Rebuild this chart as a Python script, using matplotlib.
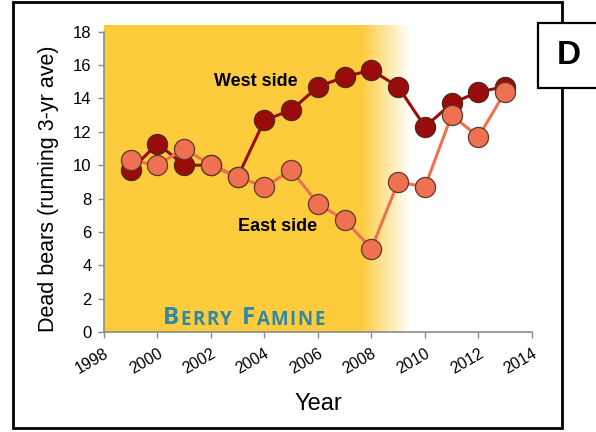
"""
Dead bears, running 3-yr average, west vs east side with berry famine band.
"""
import numpy as np
import matplotlib
matplotlib.use('Agg')
import matplotlib.pyplot as plt
from matplotlib.patches import Rectangle

# ── Data ─────────────────────────────────────────────
years = [1999, 2000, 2001, 2002, 2003, 2004, 2005, 2006, 2007, 2008,
         2009, 2010, 2011, 2012, 2013]
west = [9.7, 11.3, 10.0, 10.0, 9.3, 12.7, 13.3, 14.7, 15.3, 15.7,
        14.7, 12.3, 13.7, 14.4, 14.7]
east = [10.3, 10.0, 11.0, 10.0, 9.3, 8.7, 9.7, 7.7, 6.7, 5.0,
        9.0, 8.7, 13.0, 11.7, 14.4]
famine_start, famine_solid_end, famine_end = 1998, 2007.6, 2009.45

WEST_C = '#9a0b0b'
EAST_C = '#f07052'
YELLOW = '#fdcc3d'
TEAL = '#2f88a6'

plt.rcParams.update({'font.family': 'Liberation Sans', 'font.size': 11})
fig = plt.figure(figsize=(5.96, 4.32), dpi=100)
ax = fig.add_axes([0.1745, 0.2315, 0.718, 0.695])

# ── famine band with fade-out ────────────────────────
n = 400
xs = np.linspace(famine_start, famine_end, n)
alpha = np.clip((famine_end - xs) / (famine_end - famine_solid_end), 0, 1)
rgb = matplotlib.colors.to_rgb(YELLOW)
img = np.zeros((1, n, 4))
img[0, :, :3] = rgb
img[0, :, 3] = alpha
ax.imshow(img, extent=[famine_start, famine_end, 0, 18.36], aspect='auto',
          interpolation='bilinear', zorder=0, clip_on=False)

# ── lines ────────────────────────────────────────────
ax.plot(years, east, '-o', color=EAST_C, lw=2.2, ms=14.5, mfc=EAST_C,
        mec='#5a3a2a', mew=0.9, zorder=3)
ax.plot(years, west, '-o', color=WEST_C, lw=2.2, ms=14.5, mfc=WEST_C,
        mec='#4a2a1a', mew=0.9, zorder=2)

ax.text(2003.68, 15.0, 'West side', fontsize=13, fontweight='bold', ha='center', va='center')
ax.text(2004.5, 6.3, 'East side', fontsize=13, fontweight='bold', ha='center', va='center')

# small caps "BERRY FAMINE", letter by letter (gap before F = word space)
letters = [('B', 17.5, 0), ('E', 13.5, 1.0), ('R', 13.5, 1.0), ('R', 13.5, 1.0),
           ('Y', 13.5, 1.0), ('F', 17.5, 7.5), ('A', 13.5, 1.0), ('M', 13.5, 1.0),
           ('I', 13.5, 1.0), ('N', 13.5, 1.0), ('E', 13.5, 1.0)]
prev = ax.text(2000.2, 0.5, letters[0][0], fontsize=letters[0][1], fontweight='bold',
               color=TEAL, family='Open Sans', va='baseline')
for ch, fs, gap in letters[1:]:
    prev = ax.annotate(ch, xy=(1, 0), xycoords=prev, xytext=(gap, 0),
                       textcoords='offset points', va='bottom', ha='left',
                       fontsize=fs, fontweight='bold', color=TEAL, family='Open Sans')

ax.set_xlim(1998, 2014)
ax.set_ylim(0, 18)
ax.set_xticks(range(1998, 2015, 2))
ax.set_yticks(range(0, 19, 2))
ax.set_xticklabels([str(y) for y in range(1998, 2015, 2)], rotation=30, ha='right',
                   rotation_mode='anchor', fontsize=11.5)
ax.tick_params(axis='y', labelsize=12, pad=5)
ax.tick_params(axis='x', pad=6)
ax.tick_params(colors='#8a8a8a', labelcolor='black', length=4, width=1)
for sp in ['top', 'right']:
    ax.spines[sp].set_visible(False)
for sp in ['left', 'bottom']:
    ax.spines[sp].set_color('#8a8a8a')
    ax.spines[sp].set_linewidth(1.2)
ax.set_ylabel('Dead bears (running 3-yr ave)', fontsize=15.5)
ax.yaxis.set_label_coords(-0.105, 0.477)
ax.set_xlabel('Year', fontsize=17, labelpad=12)
ax.patch.set_alpha(0)

# ── frames ───────────────────────────────────────────
W, H = 596, 432
fig.patches.append(Rectangle((13 / W, 1 - 428 / H), (562 - 13) / W, (428 - 2) / H,
                             transform=fig.transFigure, fill=False, ec='black', lw=2))
fig.patches.append(Rectangle((538 / W, 1 - 88 / H), 70 / W, 65 / H,
                             transform=fig.transFigure, fc='white', ec='black', lw=1.6,
                             zorder=5))
fig.text(569 / W, 1 - 56 / H, 'D', fontsize=24, fontweight='bold', ha='center',
         va='center', zorder=6)

fig.savefig('out.png', dpi=100, facecolor='white')
